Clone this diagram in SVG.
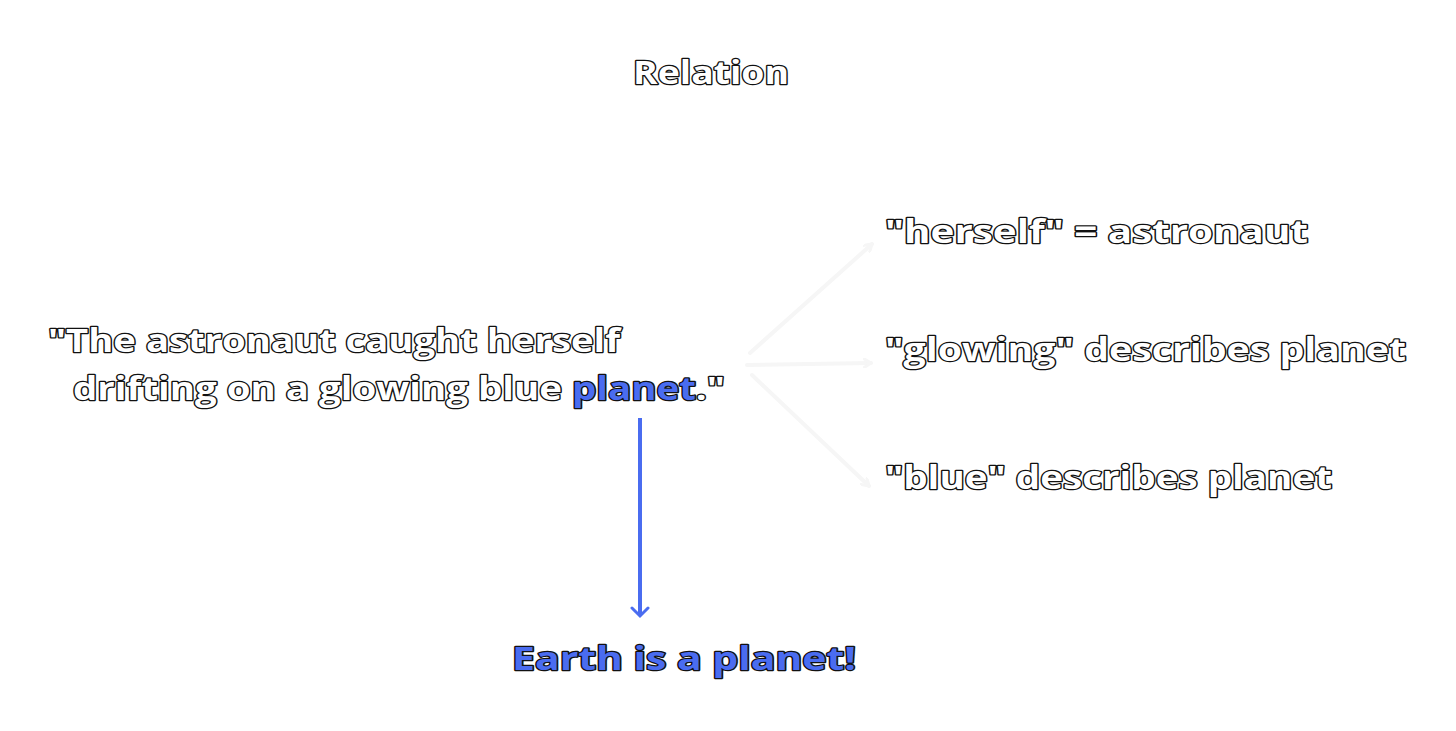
<svg xmlns="http://www.w3.org/2000/svg" width="1456" height="731" viewBox="0 0 1456 731">
<style>
.t{font-family:"Comic Sans MS","Open Sans","Noto Sans",sans-serif;font-weight:700;font-size:32px;fill:#fff;stroke:#111;stroke-width:2.5;paint-order:stroke;stroke-linejoin:round}
.b{fill:#4a6cf0}
.f{stroke:#f6f6f6;stroke-width:4;fill:none;stroke-linecap:round}
</style>
<defs>
<marker id="mf" markerWidth="10" markerHeight="10" refX="8" refY="5" orient="auto" markerUnits="userSpaceOnUse"><path d="M0,0 L8,5 L0,10" fill="none" stroke="#f6f6f6" stroke-width="3"/></marker>
<marker id="mb" markerWidth="20" markerHeight="20" refX="10" refY="10" orient="auto" markerUnits="userSpaceOnUse"><path d="M2,2 L10,10 L2,18" fill="none" stroke="#4a6cf0" stroke-width="3" stroke-linecap="round"/></marker>
</defs>
<rect width="1456" height="731" fill="#fff"/>
<g id="connectors">
<path class="f" d="M750,353 L872,244" marker-end="url(#mf)"/>
<path class="f" d="M747,365 L871,363" marker-end="url(#mf)"/>
<path class="f" d="M752,375 L869,486" marker-end="url(#mf)"/>
<path d="M640,418 L640,616" stroke="#4a6cf0" stroke-width="4" fill="none" marker-end="url(#mb)"/>
</g>
<g id="title"><text class="t" x="633" y="84" textLength="156" lengthAdjust="spacingAndGlyphs">Relation</text></g>
<g id="sentence">
<text class="t" x="48" y="352" textLength="572" lengthAdjust="spacingAndGlyphs">"The astronaut caught herself</text>
<text class="t" x="73" y="400" textLength="652" lengthAdjust="spacingAndGlyphs">drifting on a glowing blue <tspan class="b">planet</tspan>."</text>
</g>
<g id="r1"><text class="t" x="885" y="243" textLength="423" lengthAdjust="spacingAndGlyphs">"herself" = astronaut</text></g>
<g id="r2"><text class="t" x="885" y="361" textLength="521" lengthAdjust="spacingAndGlyphs">"glowing" describes planet</text></g>
<g id="r3"><text class="t" x="885" y="489" textLength="447" lengthAdjust="spacingAndGlyphs">"blue" describes planet</text></g>
<g id="earth"><text class="t b" x="512" y="670" textLength="344" lengthAdjust="spacingAndGlyphs">Earth is a planet!</text></g>
</svg>
